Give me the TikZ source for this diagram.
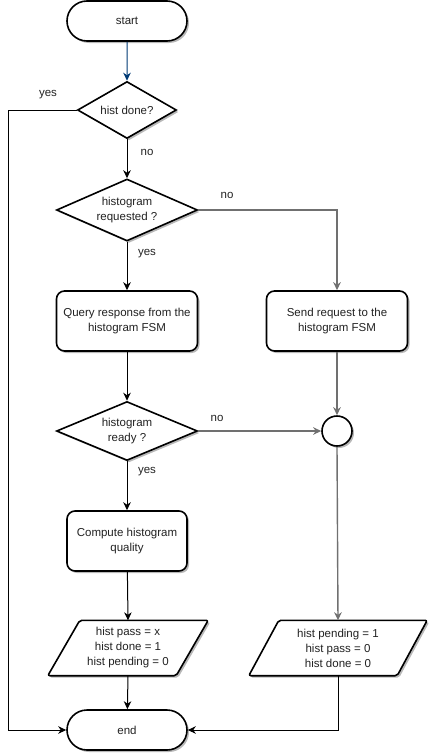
\documentclass[tikz,border=0pt]{standalone}
\usepackage{fontspec}
\setmainfont{Liberation Sans}
\usetikzlibrary{shapes.geometric,shapes.misc,arrows.meta,shadows}
\definecolor{txt}{HTML}{222222}
\definecolor{lgray}{HTML}{707070}
\definecolor{dblue}{HTML}{003A75}
\begin{document}
\begin{tikzpicture}[x=1pt,y=-1pt,
  every node/.style={font=\fontsize{11.5}{15}\selectfont, text=txt},
  shd/.style={drop shadow={shadow xshift=2pt,shadow yshift=-2pt,fill=black,opacity=0.28}},
  term/.style={rounded rectangle, draw, line width=1.6pt, fill=white, shd, minimum width=120, minimum height=40, inner sep=0},
  dec/.style={diamond, draw, line width=1.6pt, fill=white, shd, inner sep=0, align=center},
  proc/.style={rectangle, rounded corners=8pt, draw, line width=1.6pt, fill=white, shd, align=center, minimum height=60, inner sep=0},
  iobox/.style={rectangle, inner sep=0, align=center, minimum height=55},
  pshape/.style={draw, line width=1.6pt, fill=white, shd, line join=round, rounded corners=2pt},
  conn/.style={line width=1pt, -{Stealth[length=8pt,width=7.5pt,inset=2.5pt]}},
  lbl/.style={inner sep=0}
]
\useasboundingbox (0,0) rectangle (429,755);

% nodes
\node[term] (start) at (127,21) {start};
\node[dec, minimum width=99, minimum height=57, shape aspect=1.74] (hd) at (127,110) {hist done?};
\node[dec, minimum width=141, minimum height=62, shape aspect=2.27] (hreq) at (127,210) {histogram\\requested ?};
\node[proc, minimum width=141] (query) at (127,321) {Query response from the\\histogram FSM};
\node[proc, minimum width=141] (send) at (337,321) {Send request to the\\histogram FSM};
\node[dec, minimum width=141, minimum height=59, shape aspect=2.39] (hrdy) at (127,431) {histogram\\ready ?};
\node[circle, draw, line width=1.6pt, fill=white, shd, minimum size=30, inner sep=0] (circ) at (337,431) {};
\node[proc, minimum width=120] (comp) at (127,541) {Compute histogram\\quality};

\node[iobox, minimum width=128] (p1) at (128,648) {};
\draw[pshape] ([xshift=16]p1.north west) -- ([xshift=16]p1.north east) -- ([xshift=-16]p1.south east) -- ([xshift=-16]p1.south west) -- cycle;
\node[iobox, minimum width=148] at (p1.center) {hist pass = x\\hist done = 1\\hist pending = 0};

\node[iobox, minimum width=148] (p2) at (338,648) {};
\draw[pshape] ([xshift=15]p2.north west) -- ([xshift=15]p2.north east) -- ([xshift=-15]p2.south east) -- ([xshift=-15]p2.south west) -- cycle;
\node[iobox, minimum width=148] at (p2.center) {hist pending = 1\\hist pass = 0\\hist done = 0};

\node[term] (end) at (127,730) {end};

% connectors
\coordinate (lft) at (8,110);
\draw[conn, dblue] (start) -- (hd);
\draw[conn] (hd) -- (hreq);
\draw[conn] (hreq) -- (query);
\draw[conn] (query) -- (hrdy);
\draw[conn] (hrdy) -- (comp);
\draw[conn] (comp) -- (p1.north);
\draw[conn] (p1.south) -- (end);
\draw[conn] (hd.west) -- (lft) |- (end.west);
\draw[conn, lgray, line width=1.4pt] (hreq.east) -| (send.north);
\draw[conn, lgray, line width=1.4pt] (send.south) -- (circ.north);
\draw[conn, lgray, line width=1.4pt] (hrdy.east) -- (circ.west);
\draw[conn, lgray, line width=1.4pt] (circ.south) -- (p2.north);
\draw[conn] (p2.south) |- (end.east);

% labels
\node[lbl] (l1) at (48,95) {yes};
\node[lbl] (l2) at (147,152) {no};
\node[lbl] (l3) at (227,195) {no};
\node[lbl] (l4) at (147,254) {yes};
\node[lbl] (l5) at (217,418) {no};
\node[lbl] (l6) at (147,472) {yes};
\end{tikzpicture}
\end{document}
